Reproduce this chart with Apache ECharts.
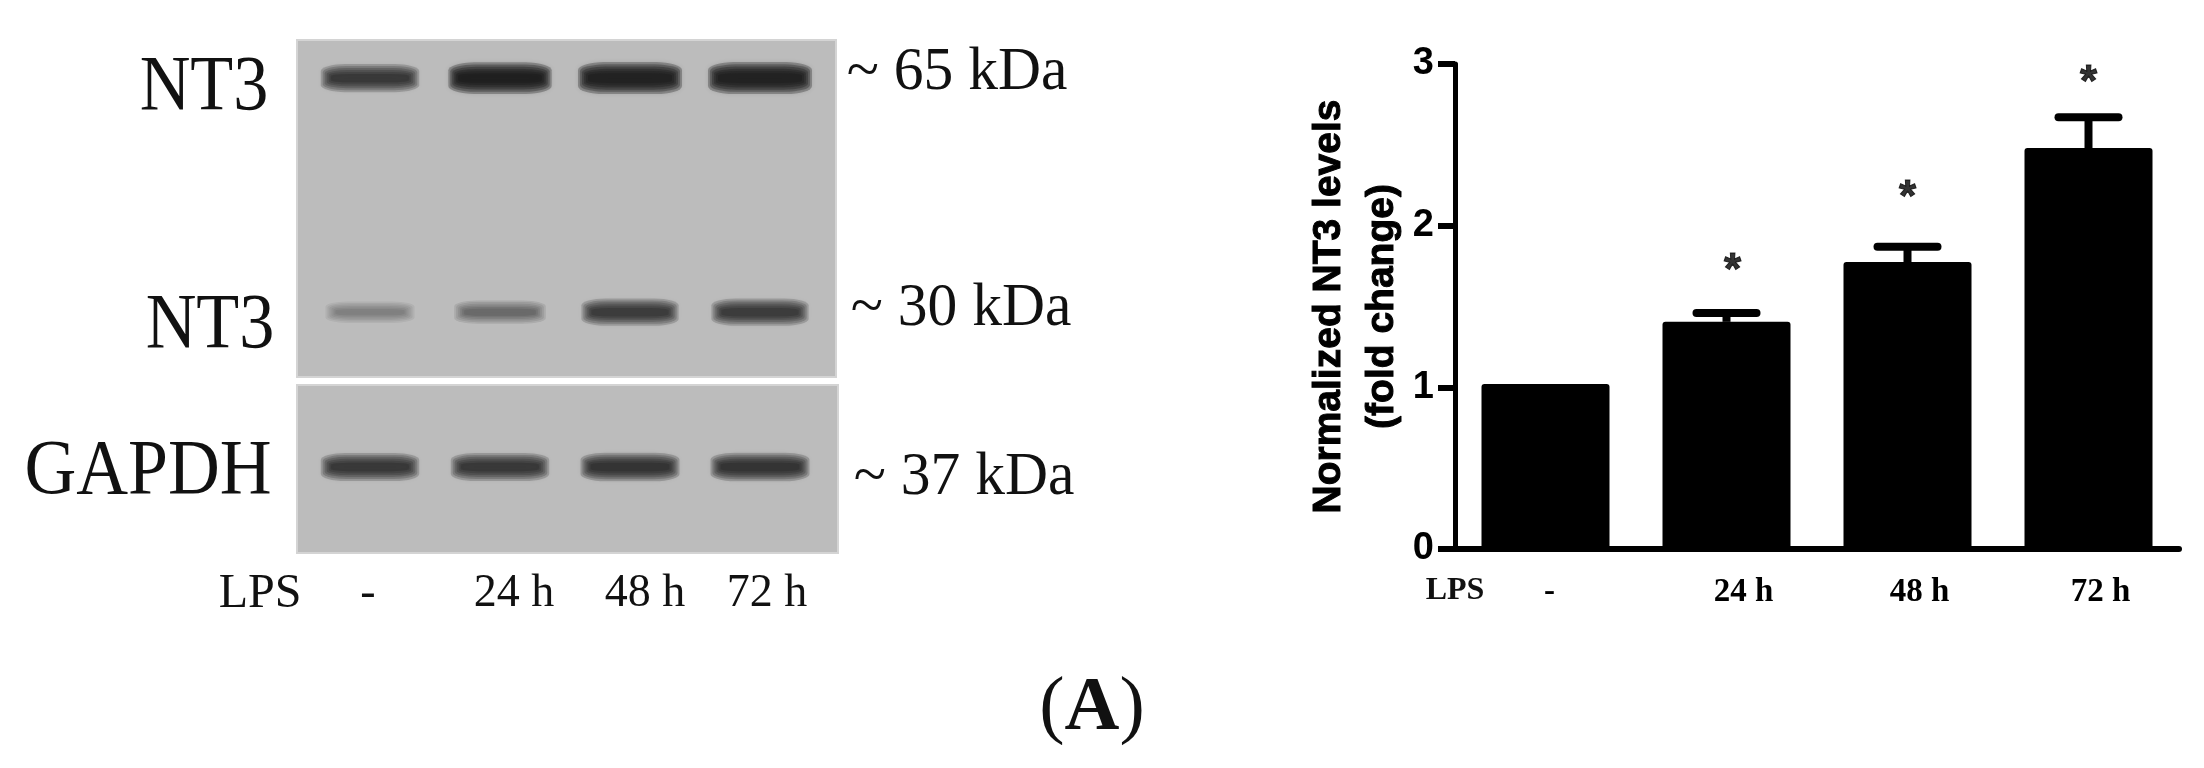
<!DOCTYPE html>
<html>
<head>
<meta charset="utf-8">
<title>NT3 levels</title>
<style>
html, body { margin: 0; padding: 0; background: #fff; }
#main { width: 2204px; height: 768px; }
</style>
<script src="https://cdn.jsdelivr.net/npm/echarts@6/dist/echarts.min.js"></script>
</head>
<body>
<div id="main"></div>
<script>
// bar chart values
var lpsTimes = ['-', '24 h', '48 h', '72 h'];
var nt3Levels = [1.02, 1.405, 1.775, 2.48];
var nt3Upper = [null, 1.46, 1.87, 2.67];
var starHeights = [null, 1.76, 2.21, 2.92];
var yTicks = [0, 1, 2, 3];

// blot band strength per lane, 0 to 1
var bandKda = [65, 30, 37];
var nt3Band65 = [0.72, 0.97, 1, 1];
var nt3Band30 = [0.25, 0.38, 0.66, 0.66];
var gapdhBand = [0.72, 0.72, 0.75, 0.75];

var serif = 'Liberation Serif';
var sans = 'Liberation Sans';
var bandLayers = 6; // nested see-through layers, stacked to look like a soft blot band

function bandSeries(grid, rows, layer) {
     var t = layer / (bandLayers - 1); // 0 outer, 1 inner
     var data = [];
     rows.forEach(function (r) {
          r[1].forEach(function (s, i) {
               var a = 0.02 + 0.26 * Math.pow(s, 1.3);
               var c = 'rgba(20,20,20,' + a.toFixed(3) + ')';
               data.push({
                    value: [lpsTimes[i], r[0], s],
                    itemStyle: { color: c, shadowColor: c }
               });
          });
     });
     return {
          type: 'scatter',
          xAxisIndex: grid,
          yAxisIndex: grid,
          silent: true,
          z: 2 + layer,
          symbol: 'roundRect',
          symbolSize: function (v) {
               var w = 82 + 20 * v[2];
               var h = 12 + 14 * v[2];
               return [w + 2 - 20 * t, (h + 6) * (1 - 0.7 * t)];
          },
          itemStyle: { opacity: 1, shadowBlur: 5 },
          data: data
     };
}

function allBands() {
     var list = [];
     for (var k = 0; k < bandLayers; k++) {
          list.push(bandSeries(1, [[bandKda[0], nt3Band65], [bandKda[1], nt3Band30]], k));
          list.push(bandSeries(2, [[bandKda[2], gapdhBand]], k));
     }
     return list;
}

// text placed by hand around the blot
function txt(str, x, y, size, opts) {
     opts = opts || {};
     return {
          type: 'text',
          x: x,
          y: y,
          scaleX: opts.sx || 1,
          z: 10,
          silent: true,
          style: {
               text: str,
               fill: '#111',
               font: (opts.weight || 'normal') + ' ' + size + 'px "' + serif + '"',
               textAlign: opts.align || 'center',
               textVerticalAlign: 'middle'
          }
     };
}

function panel(x, y, w, h) {
     return {
          type: 'rect',
          z: 0,
          silent: true,
          shape: { x: x, y: y, width: w, height: h },
          style: { fill: '#bcbcbc', stroke: '#d4d4d4', lineWidth: 2 }
     };
}

var graphics = [
     panel(297, 40, 539, 337),
     panel(297, 385, 541, 168),
     txt('NT3', 204, 89, 78, { sx: 0.9 }),
     txt('NT3', 210, 327, 78, { sx: 0.9 }),
     txt('GAPDH', 148, 473, 78, { sx: 0.92 }),
     txt('~ 65 kDa', 957, 73, 62, { sx: 0.96 }),
     txt('~ 30 kDa', 961, 309, 62, { sx: 0.96 }),
     txt('~ 37 kDa', 964, 478, 62, { sx: 0.96 }),
     txt('LPS', 260, 594, 48),
     txt(lpsTimes[0], 368, 594, 46),
     txt(lpsTimes[1], 514, 594, 46),
     txt(lpsTimes[2], 645, 594, 46),
     txt(lpsTimes[3], 767, 594, 46),
     txt('LPS', 1455, 591, 32, { weight: 'bold' }),
     {
          type: 'text',
          x: 1092,
          y: 709,
          z: 10,
          silent: true,
          style: {
               text: '{p|(}{b|A}{p|)}',
               textAlign: 'center',
               textVerticalAlign: 'middle',
               rich: {
                    p: { font: 'normal 76px "' + serif + '"', fill: '#111' },
                    b: { font: 'bold 76px "' + serif + '"', fill: '#111' }
               }
          }
     }
];

var labelPad = [8, 34, 24, 24];

var option = {
     backgroundColor: '#fff',
     animation: false,
     graphic: graphics,
     grid: [
          { left: 1455, top: 64, width: 724, height: 485 },
          { left: 305, top: 40, width: 520, height: 337 },
          { left: 305, top: 385, width: 520, height: 168 }
     ],
     xAxis: [{
          type: 'category',
          gridIndex: 0,
          data: lpsTimes.map(function (t, i) {
               return { value: t, textStyle: { padding: [0, 0, 0, labelPad[i]] } };
          }),
          axisLine: { lineStyle: { color: '#000', width: 6, cap: 'round' } },
          axisTick: { alignWithLabel: true, length: 17, lineStyle: { color: '#000', width: 6 } },
          axisLabel: {
               color: '#000',
               fontFamily: serif,
               fontWeight: 'bold',
               fontSize: 33,
               margin: 27,
               interval: 0
          }
     }, {
          type: 'category',
          gridIndex: 1,
          show: false,
          data: lpsTimes
     }, {
          type: 'category',
          gridIndex: 2,
          show: false,
          data: lpsTimes
     }],
     yAxis: [{
          type: 'value',
          gridIndex: 0,
          min: yTicks[0],
          max: yTicks[yTicks.length - 1],
          interval: 1,
          name: 'Normalized NT3 levels\n(fold change)',
          nameLocation: 'middle',
          nameRotate: 90,
          nameGap: 46,
          nameTextStyle: {
               color: '#000',
               fontFamily: sans,
               fontWeight: 'bold',
               fontSize: 39,
               lineHeight: 53,
               textBorderColor: '#000',
               textBorderWidth: 1
          },
          splitLine: { show: false },
          axisLine: { show: true, lineStyle: { color: '#000', width: 5 } },
          axisTick: { show: true, length: 17, lineStyle: { color: '#000', width: 6 } },
          axisLabel: {
               color: '#000',
               fontFamily: sans,
               fontWeight: 'bold',
               fontSize: 38,
               margin: 21
          }
     }, {
          // kDa positions for the upper blot
          type: 'value',
          gridIndex: 1,
          show: false,
          min: 20.3,
          max: 70.7,
          splitLine: { show: false }
     }, {
          type: 'value',
          gridIndex: 2,
          show: false,
          min: 29.83,
          max: 43.83,
          splitLine: { show: false }
     }],
     series: [{
          type: 'bar',
          xAxisIndex: 0,
          yAxisIndex: 0,
          barWidth: 128,
          itemStyle: { color: '#000', borderRadius: [3, 3, 0, 0] },
          data: nt3Levels
     }, {
          // error bars
          type: 'custom',
          xAxisIndex: 0,
          yAxisIndex: 0,
          z: 3,
          data: lpsTimes.map(function (t, i) {
               return [t, nt3Levels[i], nt3Upper[i]];
          }),
          renderItem: function (params, api) {
               if (api.value(2) == null || isNaN(api.value(2))) {
                    return;
               }
               var low = api.coord([api.value(0), api.value(1)]);
               var high = api.coord([api.value(0), api.value(2)]);
               return {
                    type: 'group',
                    children: [{
                         type: 'line',
                         shape: { x1: low[0], y1: low[1], x2: high[0], y2: high[1] },
                         style: { stroke: '#000', lineWidth: 8 }
                    }, {
                         type: 'line',
                         shape: { x1: high[0] - 30, y1: high[1], x2: high[0] + 30, y2: high[1] },
                         style: { stroke: '#000', lineWidth: 8, lineCap: 'round' }
                    }]
               };
          }
     }, {
          // significance stars
          type: 'scatter',
          xAxisIndex: 0,
          yAxisIndex: 0,
          symbolSize: 1,
          itemStyle: { color: 'rgba(0,0,0,0)' },
          label: {
               show: true,
               position: 'inside',
               formatter: '*',
               color: '#000',
               fontFamily: sans,
               fontWeight: 'bold',
               fontSize: 44,
               textBorderColor: '#000',
               textBorderWidth: 1
          },
          data: lpsTimes.map(function (t, i) {
               return {
                    value: [t, starHeights[i]],
                    label: { offset: [i == 1 ? 6 : 0, 7] }
               };
          })
     }].concat(allBands())
};

var chart = echarts.init(document.getElementById('main'));
chart.setOption(option);
</script>
</body>
</html>
